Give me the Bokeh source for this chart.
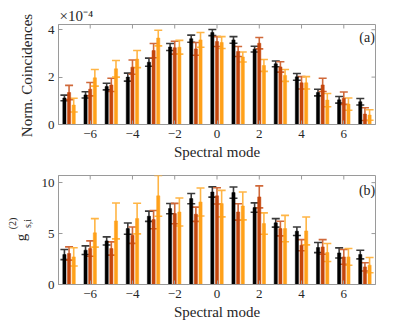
import numpy as np
from bokeh.plotting import figure
from bokeh.models import ColumnDataSource, Whisker, TeeHead, FixedTicker, Range1d
from bokeh.layouts import column, row
from bokeh.transform import dodge
from bokeh.core.properties import value
from bokeh.embed import file_html
from bokeh.resources import INLINE

modes = [-7, -6, -5, -4, -3, -2, -1, 0, 1, 2, 3, 4, 5, 6, 7]

# Panel (a): normalized coincidences (x 1e-4)
a_black = [1.12, 1.25, 1.60, 2.00, 2.63, 3.27, 3.62, 3.88, 3.57, 3.18, 2.56, 2.01, 1.35, 1.04, 0.96]
a_black_err = [0.12, 0.13, 0.14, 0.17, 0.17, 0.15, 0.15, 0.13, 0.14, 0.12, 0.12, 0.14, 0.14, 0.14, 0.14]
a_dark = [1.35, 1.49, 1.67, 2.42, 3.12, 3.24, 3.19, 3.50, 3.08, 3.43, 2.43, 1.76, 1.67, 1.11, 0.44]
a_dark_err = [0.30, 0.28, 0.28, 0.30, 0.30, 0.27, 0.27, 0.21, 0.21, 0.24, 0.22, 0.26, 0.28, 0.26, 0.27]
a_orange = [0.82, 1.97, 2.35, 2.76, 3.65, 3.26, 3.57, 3.46, 2.85, 2.49, 2.07, 1.76, 1.03, 0.86, 0.40]
a_orange_err = [0.29, 0.35, 0.35, 0.36, 0.33, 0.29, 0.31, 0.25, 0.21, 0.25, 0.25, 0.26, 0.28, 0.26, 0.22]

# Panel (b): g2_{s,i}
b_black = [2.94, 3.37, 4.28, 5.49, 6.70, 7.45, 8.43, 9.08, 9.02, 7.55, 6.05, 5.23, 3.63, 3.10, 2.94]
b_black_err = [0.50, 0.42, 0.40, 0.55, 0.50, 0.50, 0.50, 0.50, 0.55, 0.46, 0.42, 0.42, 0.50, 0.50, 0.42]
b_dark = [3.04, 3.53, 3.53, 4.84, 6.37, 6.96, 6.90, 8.70, 7.12, 8.60, 5.49, 3.86, 3.69, 2.71, 1.73]
b_dark_err = [0.65, 0.75, 0.65, 0.80, 0.90, 1.00, 0.70, 0.80, 0.80, 1.08, 0.72, 0.55, 0.72, 0.72, 0.40]
b_orange = [2.71, 5.07, 6.24, 6.47, 8.70, 7.12, 8.10, 7.94, 7.71, 5.98, 5.49, 5.26, 3.14, 2.71, 1.90]
b_orange_err = [0.90, 1.40, 1.76, 1.50, 2.00, 1.37, 1.37, 1.30, 1.37, 1.05, 1.30, 1.37, 0.88, 0.82, 0.75]

x_ticks = [-6, -4, -2, 0, 2, 4, 6]
a_yticks = [0, 2, 4]
b_yticks = [0, 5, 10]
X_MIN, X_MAX = -7.5, 7.5
A_YMAX = 4.22
B_YMAX = 10.7

BAR_COLORS = ["#000000", "#C4460C", "#FFA11A"]
ERR_COLORS = ["#3a3a3a", "#D0693A", "#FFB545"]
OFFSETS = [-0.22, 0.0, 0.22]
FONT = "Liberation Serif"
TXT = "#262626"
BOX = "#9a9a9a"

LEFT_W = 38
MAIN_W = 367
H_A, H_B = 162, 161
TOTAL_H = H_A + H_B


def make_panel(series, errs, ymax, yticks, height, top_b, bot_b):
    p = figure(width=MAIN_W, height=height, x_range=Range1d(X_MIN, X_MAX), y_range=Range1d(0, ymax),
               output_backend="svg", toolbar_location=None,
               min_border_left=15, min_border_right=30, min_border_top=top_b, min_border_bottom=bot_b)
    p.grid.visible = False
    p.outline_line_color = BOX
    p.outline_line_width = 1
    for i, (vals, err) in enumerate(zip(series, errs)):
        vals = np.array(vals)
        err = np.array(err)
        src = ColumnDataSource(dict(mode=modes, v=vals, lo=vals - err, hi=vals + err))
        p.vbar(x=dodge("mode", OFFSETS[i]), top="v", width=0.15, source=src,
               fill_color=BAR_COLORS[i], line_color=BAR_COLORS[i], line_width=0.5)
        w = Whisker(base=dodge("mode", OFFSETS[i]), lower="lo", upper="hi", source=src,
                    line_color=ERR_COLORS[i], line_width=1.6,
                    upper_head=TeeHead(size=8, line_color=ERR_COLORS[i], line_width=1.6),
                    lower_head=TeeHead(size=8, line_color=ERR_COLORS[i], line_width=1.6))
        p.add_layout(w)
    # inward box ticks on top and right edges (clipped half-dashes)
    p.scatter(x=x_ticks, y=[ymax] * len(x_ticks), marker="dash", angle=np.pi / 2, size=8,
              line_color=BOX, line_width=1)
    p.scatter(x=[X_MAX] * len(yticks), y=yticks, marker="dash", size=8, line_color=BOX, line_width=1)
    for ax in (p.xaxis[0], p.yaxis[0]):
        ax.axis_line_color = BOX
        ax.major_tick_line_color = BOX
        ax.major_tick_in = 4
        ax.major_tick_out = 0
        ax.minor_tick_line_color = None
        ax.major_label_text_font = FONT
        ax.major_label_text_font_size = "13px"
        ax.major_label_text_color = TXT
        ax.axis_label_text_font = FONT
        ax.axis_label_text_font_size = "15px"
        ax.axis_label_text_font_style = "normal"
        ax.axis_label_text_color = TXT
    p.xaxis[0].ticker = FixedTicker(ticks=x_ticks)
    p.yaxis[0].ticker = FixedTicker(ticks=yticks)
    p.xaxis[0].major_label_standoff = 5
    p.xaxis[0].axis_label_standoff = 3
    p.xaxis[0].axis_label = "Spectral mode"
    p.yaxis[0].major_label_standoff = 4
    return p


pa = make_panel([a_black, a_dark, a_orange], [a_black_err, a_dark_err, a_orange_err],
                A_YMAX, a_yticks, H_A, 24, 36)
pa.title.text = "×10⁻⁴"
pa.title.align = "left"
pa.title.offset = 1
pa.title.standoff = 2
pa.title.text_font = FONT
pa.title.text_font_size = "15px"
pa.title.text_font_style = "normal"
pa.title.text_color = TXT
pa.text(x=[7.1], y=[3.67], text=["(a)"], text_font=value(FONT), text_font_size="14px",
        text_color=TXT, text_align="center", text_baseline="middle")

pb = make_panel([b_black, b_dark, b_orange], [b_black_err, b_dark_err, b_orange_err],
                B_YMAX, b_yticks, H_B, 13, 39)
pb.text(x=[7.1], y=[9.18], text=["(b)"], text_font=value(FONT), text_font_size="14px",
        text_color=TXT, text_align="center", text_baseline="middle")

# left strip holding the y-axis titles (page pixel positions, y measured from bottom)
lab = figure(width=LEFT_W, height=TOTAL_H, x_range=Range1d(0, LEFT_W), y_range=Range1d(0, TOTAL_H),
             output_backend="svg", toolbar_location=None, min_border=0)
lab.axis.visible = False
lab.grid.visible = False
lab.outline_line_color = None
lab.text(x=[26], y=[TOTAL_H - 75], text=["Norm. Coincidences"], text_font=value(FONT),
         text_font_size="15px", text_color=TXT, angle=np.pi / 2,
         text_align="center", text_baseline="middle")
lab.text(x=[20], y=[TOTAL_H - 237], text=["g"], text_font=value(FONT), text_font_size="15px",
         text_color=TXT, angle=np.pi / 2, text_align="center", text_baseline="middle")
lab.text(x=[12], y=[TOTAL_H - 223], text=["(2)"], text_font=value(FONT), text_font_size="10px",
         text_color=TXT, angle=np.pi / 2, text_align="center", text_baseline="middle")
lab.text(x=[27], y=[TOTAL_H - 223], text=["s,i"], text_font=value(FONT), text_font_size="10px",
         text_color=TXT, angle=np.pi / 2, text_align="center", text_baseline="middle")

layout = row(lab, column(pa, pb))
open("out.html", "w").write(file_html(layout, INLINE))
